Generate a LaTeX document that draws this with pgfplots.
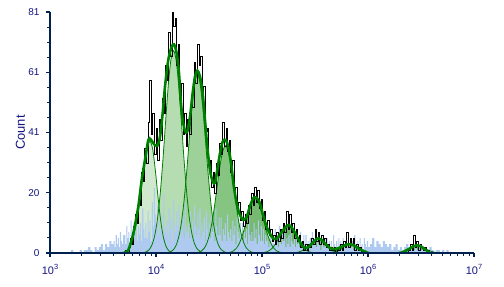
\documentclass[border=0pt]{standalone}
\usepackage{pgfplots}
\pgfplotsset{compat=1.18}
\usepackage{pgfplotstable}
\usepackage{fontspec}
\setmainfont{Liberation Sans}
\definecolor{axiscol}{RGB}{0,32,80}
\definecolor{labelcol}{RGB}{20,20,130}
\definecolor{gline}{RGB}{0,128,0}
\definecolor{cfa}{RGB}{208,232,206}
\definecolor{cfb}{RGB}{182,220,178}
\definecolor{cfc}{RGB}{158,208,154}
\definecolor{cfd}{RGB}{134,196,130}
\definecolor{cfe}{RGB}{118,186,114}
\definecolor{cff}{RGB}{108,178,104}
\definecolor{cfg}{RGB}{100,172,96}
\definecolor{bluecol}{RGB}{174,202,240}

\pgfplotstableread{
x y
3.670 0.10
3.695 0.29
3.720 0.72
3.745 1.65
3.770 3.43
3.795 6.45
3.820 11.06
3.845 17.18
3.870 24.19
3.895 30.86
3.920 35.70
3.945 37.5
3.970 34.65
3.995 27.38
4.020 18.45
4.045 10.65
4.070 5.25
4.095 2.21
4.120 0.79
4.145 0.24
}\compA
\pgfplotstableread{
x y
3.890 0.18
3.915 0.52
3.940 1.31
3.965 2.99
3.990 6.22
4.015 11.70
4.040 20.06
4.065 31.14
4.090 43.86
4.115 55.96
4.140 64.74
4.165 68
4.190 64.74
4.215 55.96
4.240 43.86
4.265 31.14
4.290 20.06
4.315 11.70
4.340 6.22
4.365 2.99
4.390 1.31
4.415 0.52
4.440 0.18
}\compB
\pgfplotstableread{
x y
4.115 0.16
4.140 0.46
4.165 1.15
4.190 2.63
4.215 5.48
4.240 10.32
4.265 17.70
4.290 27.48
4.315 38.70
4.340 49.38
4.365 57.12
4.390 60
4.415 57.12
4.440 49.38
4.465 38.70
4.490 27.48
4.515 17.70
4.540 10.32
4.565 5.48
4.590 2.63
4.615 1.15
4.640 0.46
4.665 0.16
}\compC
\pgfplotstableread{
x y
4.380 0.10
4.405 0.27
4.430 0.69
4.455 1.58
4.480 3.29
4.505 6.19
4.530 10.62
4.555 16.49
4.580 23.22
4.605 29.63
4.630 34.27
4.655 36
4.680 34.27
4.705 29.63
4.730 23.22
4.755 16.49
4.780 10.62
4.805 6.19
4.830 3.29
4.855 1.58
4.880 0.69
4.905 0.27
4.930 0.10
}\compD
\pgfplotstableread{
x y
4.660 0.05
4.685 0.14
4.710 0.35
4.735 0.80
4.760 1.67
4.785 3.15
4.810 5.40
4.835 8.38
4.860 11.80
4.885 15.06
4.910 17.42
4.935 18.3
4.960 17.42
4.985 15.06
5.010 11.80
5.035 8.38
5.060 5.40
5.085 3.15
5.110 1.67
5.135 0.80
5.160 0.35
5.185 0.14
5.210 0.05
}\compE
\pgfplotstableread{
x y
4.970 0.02
4.995 0.07
5.020 0.17
5.045 0.40
5.070 0.82
5.095 1.55
5.120 2.66
5.145 4.12
5.170 5.81
5.195 7.41
5.220 8.57
5.245 9
5.270 8.57
5.295 7.41
5.320 5.81
5.345 4.12
5.370 2.66
5.395 1.55
5.420 0.82
5.445 0.40
5.470 0.17
5.495 0.07
5.520 0.02
}\compF
\pgfplotstableread{
x y
5.255 0.01
5.280 0.04
5.305 0.09
5.330 0.21
5.355 0.43
5.380 0.81
5.405 1.39
5.430 2.15
5.455 3.03
5.480 3.87
5.505 4.47
5.530 4.7
5.555 4.47
5.580 3.87
5.605 3.03
5.630 2.15
5.655 1.39
5.680 0.81
5.705 0.43
5.730 0.21
5.755 0.09
5.780 0.04
5.805 0.01
}\compG
\pgfplotstableread{
x y
5.560 0.01
5.585 0.02
5.610 0.06
5.635 0.13
5.660 0.27
5.685 0.50
5.710 0.86
5.735 1.33
5.760 1.87
5.785 2.39
5.810 2.76
5.835 2.9
5.860 2.76
5.885 2.39
5.910 1.87
5.935 1.33
5.960 0.86
5.985 0.50
6.010 0.27
6.035 0.13
6.060 0.06
6.085 0.02
6.110 0.01
}\compH
\pgfplotstableread{
x y
6.185 0.01
6.210 0.02
6.235 0.05
6.260 0.11
6.285 0.22
6.310 0.41
6.335 0.71
6.360 1.10
6.385 1.55
6.410 1.98
6.435 2.28
6.460 2.4
6.485 2.28
6.510 1.98
6.535 1.55
6.560 1.10
6.585 0.71
6.610 0.41
6.635 0.22
6.660 0.11
6.685 0.05
6.710 0.02
6.735 0.01
}\compI

\begin{document}
\begin{tikzpicture}
\path[use as bounding box] (-50bp,-34bp) rectangle (454bp,253bp);
\begin{axis}[
  at={(0,0)}, anchor=south west,
  scale only axis, width=424bp, height=241bp,
  xmin=3, xmax=7, ymin=0, ymax=81,
  enlargelimits=false,
  axis x line=bottom, axis y line=left,
  axis line style={draw=axiscol, line width=2bp, -},
  axis on top=true,
  xtick={3,4,5,6,7},
  xticklabels={
    10\raisebox{4.5bp}{\fontsize{7.5}{8}\selectfont 3},
    10\raisebox{4.5bp}{\fontsize{7.5}{8}\selectfont 4},
    10\raisebox{4.5bp}{\fontsize{7.5}{8}\selectfont 5},
    10\raisebox{4.5bp}{\fontsize{7.5}{8}\selectfont 6},
    10\raisebox{4.5bp}{\fontsize{7.5}{8}\selectfont 7}},
  minor xtick={3.301,3.477,3.602,3.699,3.778,3.845,3.903,3.954,
               4.301,4.477,4.602,4.699,4.778,4.845,4.903,4.954,
               5.301,5.477,5.602,5.699,5.778,5.845,5.903,5.954,
               6.301,6.477,6.602,6.699,6.778,6.845,6.903,6.954},
  ytick={0,20.25,40.5,60.75,81},
  yticklabels={0,20,41,61,81},
  minor ytick={5.0625,10.125,15.1875,25.3125,30.375,35.4375,45.5625,50.625,55.6875,65.8125,70.875,75.9375},
  tick align=outside,
  major tick length=4bp, minor tick length=2.5bp,
  every tick/.style={draw=axiscol, line width=1.1bp},
  xticklabel style={font=\fontsize{11}{12}\selectfont, text=labelcol, anchor=north, yshift=-4bp},
  yticklabel style={font=\fontsize{10}{12}\selectfont, text=labelcol, anchor=east, xshift=-3bp},
  ylabel={Count},
  ylabel style={font=\fontsize{13}{14}\selectfont, text=labelcol, at={(axis description cs:-0.0696,0.5)}, anchor=center},
]
% component fills
\addplot[draw=none, fill=cfa, smooth] table {\compA} \closedcycle;
\addplot[draw=none, fill=cfb, smooth] table {\compB} \closedcycle;
\addplot[draw=none, fill=cfc, smooth] table {\compC} \closedcycle;
\addplot[draw=none, fill=cfd, smooth] table {\compD} \closedcycle;
\addplot[draw=none, fill=cfe, smooth] table {\compE} \closedcycle;
\addplot[draw=none, fill=cff, smooth] table {\compF} \closedcycle;
\addplot[draw=none, fill=cfg, smooth] table {\compG} \closedcycle;
\addplot[draw=none, fill=cfg, smooth] table {\compH} \closedcycle;
\addplot[draw=none, fill=cfg, smooth] table {\compI} \closedcycle;
% blue histogram
\addplot[const plot, draw=none, fill=bluecol] coordinates {
(3.20,1)(3.22,0)(3.24,0)(3.26,0)(3.28,1)(3.30,0)(3.32,1)(3.34,1)(3.36,2)(3.38,1)
(3.40,0)(3.42,2)(3.44,1)(3.46,2)(3.48,3)(3.50,1)(3.52,3)(3.54,2)(3.56,4)(3.58,3)
(3.60,4)(3.61,2)(3.62,6)(3.63,3)(3.64,5)(3.65,2)(3.66,7)(3.67,4)(3.68,3)(3.69,6)
(3.70,6)(3.71,3)(3.72,9)(3.73,5)(3.74,7)(3.75,3)(3.76,11)(3.77,6)(3.78,4)(3.79,10)
(3.80,7)(3.81,12)(3.82,4)(3.83,9)(3.84,6)(3.85,10)(3.86,4)(3.87,15)(3.88,8)(3.89,5)
(3.90,10)(3.91,5)(3.92,14)(3.93,7)(3.94,11)(3.95,4)(3.96,17)(3.97,9)(3.98,22)(3.99,13)
(4.00,8)(4.01,16)(4.02,6)(4.03,11)(4.04,8)(4.05,13)(4.06,5)(4.07,20)(4.08,9)(4.09,7)
(4.10,11)(4.11,6)(4.12,15)(4.13,8)(4.14,12)(4.15,4)(4.16,18)(4.17,10)(4.18,7)(4.19,14)
(4.20,9)(4.21,16)(4.22,6)(4.23,11)(4.24,8)(4.25,13)(4.26,5)(4.27,17)(4.28,9)(4.29,7)
(4.30,10)(4.31,5)(4.32,14)(4.33,7)(4.34,11)(4.35,4)(4.36,16)(4.37,9)(4.38,6)(4.39,13)
(4.40,8)(4.41,15)(4.42,5)(4.43,10)(4.44,7)(4.45,12)(4.46,4)(4.47,14)(4.48,8)(4.49,6)
(4.50,10)(4.51,5)(4.52,13)(4.53,7)(4.54,11)(4.55,4)(4.56,15)(4.57,9)(4.58,6)(4.59,12)
(4.60,6)(4.61,12)(4.62,4)(4.63,8)(4.64,6)(4.65,10)(4.66,4)(4.67,13)(4.68,7)(4.69,5)
(4.70,8)(4.71,4)(4.72,11)(4.73,6)(4.74,9)(4.75,3)(4.76,12)(4.77,7)(4.78,5)(4.79,10)
(4.80,6)(4.81,10)(4.82,4)(4.83,7)(4.84,5)(4.85,8)(4.86,3)(4.87,12)(4.88,6)(4.89,4)
(4.90,7)(4.91,4)(4.92,10)(4.93,5)(4.94,8)(4.95,3)(4.96,11)(4.97,6)(4.98,4)(4.99,9)
(5.00,4)(5.01,8)(5.02,3)(5.03,6)(5.04,4)(5.05,7)(5.06,2)(5.07,9)(5.08,5)(5.09,3)
(5.10,5)(5.11,3)(5.12,8)(5.13,4)(5.14,6)(5.15,2)(5.16,9)(5.17,5)(5.18,3)(5.19,7)
(5.20,4)(5.21,7)(5.22,2)(5.23,5)(5.24,3)(5.25,6)(5.26,2)(5.27,8)(5.28,4)(5.29,3)
(5.30,5)(5.31,2)(5.32,6)(5.33,3)(5.34,5)(5.35,2)(5.36,7)(5.37,4)(5.38,3)(5.39,6)
(5.40,3)(5.41,6)(5.42,2)(5.43,4)(5.44,3)(5.45,5)(5.46,2)(5.47,7)(5.48,4)(5.49,3)
(5.50,4)(5.51,2)(5.52,5)(5.53,3)(5.54,4)(5.55,1)(5.56,6)(5.57,3)(5.58,2)(5.59,5)
(5.60,3)(5.61,5)(5.62,2)(5.63,4)(5.64,2)(5.65,4)(5.66,1)(5.67,6)(5.68,3)(5.69,2)
(5.70,4)(5.71,2)(5.72,5)(5.73,3)(5.74,4)(5.75,1)(5.76,5)(5.77,3)(5.78,2)(5.79,4)
(5.80,3)(5.81,5)(5.82,2)(5.83,3)(5.84,2)(5.85,4)(5.86,1)(5.87,6)(5.88,3)(5.89,2)
(5.90,4)(5.91,2)(5.92,5)(5.93,2)(5.94,3)(5.95,1)(5.96,5)(5.97,3)(5.98,2)(5.99,4)
(6.00,2)(6.02,3)(6.04,5)(6.06,2)(6.08,4)(6.10,3)(6.12,2)(6.14,4)(6.16,3)(6.18,2)
(6.20,3)(6.22,1)(6.24,2)(6.26,3)(6.28,1)(6.30,2)(6.32,1)(6.34,2)(6.36,3)(6.38,1)
(6.40,2)(6.42,1)(6.44,2)(6.46,1)(6.48,2)(6.50,1)(6.52,2)(6.54,1)(6.56,1)(6.58,2)
(6.60,1)(6.62,0)(6.64,1)(6.66,1)(6.68,0)(6.70,1)(6.72,0)(6.74,1)(6.76,0)(6.78,0)
} \closedcycle;
% component outlines
\addplot[draw=gline, line width=0.8bp, smooth] table {\compA};
\addplot[draw=gline, line width=0.8bp, smooth] table {\compB};
\addplot[draw=gline, line width=0.8bp, smooth] table {\compC};
\addplot[draw=gline, line width=0.8bp, smooth] table {\compD};
\addplot[draw=gline, line width=0.8bp, smooth] table {\compE};
\addplot[draw=gline, line width=0.8bp, smooth] table {\compF};
\addplot[draw=gline, line width=0.8bp, smooth] table {\compG};
\addplot[draw=gline, line width=0.8bp, smooth] table {\compH};
\addplot[draw=gline, line width=0.8bp, smooth] table {\compI};
% black data histogram
\addplot[const plot, draw=black, line width=0.75bp] coordinates {
(3.700,0)(3.715,1)(3.730,0)(3.745,2)(3.760,5)(3.775,3)(3.790,9)(3.805,13)(3.820,10)(3.835,18)
(3.850,16)(3.865,27)(3.880,24)(3.895,35)(3.910,30)(3.925,44)(3.940,58)(3.955,40)(3.970,47)(3.985,33)
(4.000,42)(4.015,31)(4.030,45)(4.045,38)(4.060,52)(4.075,47)(4.090,63)(4.105,58)(4.120,74)(4.135,66)
(4.150,81)(4.165,76)(4.180,79)(4.195,63)(4.210,70)(4.225,52)(4.240,57)(4.255,40)(4.270,47)(4.285,36)
(4.300,45)(4.315,40)(4.330,52)(4.345,49)(4.360,64)(4.375,57)(4.390,70)(4.405,63)(4.420,66)(4.435,52)
(4.450,56)(4.465,41)(4.480,42)(4.495,29)(4.510,31)(4.525,22)(4.540,27)(4.555,20)(4.570,30)(4.585,26)
(4.600,37)(4.615,33)(4.630,44)(4.645,36)(4.660,42)(4.675,34)(4.690,38)(4.705,27)(4.720,31)(4.735,19)
(4.750,22)(4.765,14)(4.780,17)(4.795,11)(4.810,14)(4.825,9)(4.840,13)(4.855,10)(4.870,16)(4.885,13)
(4.900,20)(4.915,16)(4.930,22)(4.945,17)(4.960,21)(4.975,15)(4.990,18)(5.005,11)(5.020,14)(5.035,8)
(5.050,11)(5.065,6)(5.080,8)(5.095,4)(5.110,6)(5.125,3)(5.140,7)(5.155,4)(5.170,8)(5.185,5)
(5.200,10)(5.215,7)(5.230,14)(5.245,8)(5.260,13)(5.275,7)(5.290,10)(5.305,5)(5.320,8)(5.335,4)
(5.350,6)(5.365,2)(5.380,4)(5.395,1)(5.410,3)(5.425,1)(5.440,3)(5.455,2)(5.470,5)(5.485,3)
(5.500,8)(5.515,4)(5.530,7)(5.545,3)(5.560,6)(5.575,3)(5.590,5)(5.605,2)(5.620,3)(5.635,1)
(5.650,2)(5.665,1)(5.680,2)(5.695,0)(5.710,2)(5.725,1)(5.740,3)(5.755,1)(5.770,4)(5.785,2)
(5.800,7)(5.815,2)(5.830,5)(5.845,3)(5.860,5)(5.875,1)(5.890,3)(5.905,1)(5.920,2)(5.935,0)
(5.950,1)(5.965,0)(5.980,0)
};
\addplot[const plot, draw=black, line width=0.75bp] coordinates {
(6.370,0)(6.385,1)(6.400,3)(6.415,1)(6.430,6)(6.445,2)(6.460,4)(6.475,1)(6.490,3)(6.505,2)
(6.520,1)(6.535,2)(6.550,0)(6.565,1)(6.580,0)
};
% total model curve
\addplot[draw=gline, line width=2.6bp, smooth] coordinates {
(3.700,0)(3.739,1)(3.786,6.6)(3.833,15.6)(3.865,24.5)(3.896,31.3)(3.928,38)(3.95,38.2)(3.981,36.6)(4.012,36)
(4.038,39.1)(4.063,47)(4.085,55.9)(4.116,64.9)(4.148,69.3)(4.17,70.1)(4.195,67.1)(4.217,60.4)(4.233,51.4)(4.252,44.7)
(4.274,41.1)(4.295,40.8)(4.321,45.8)(4.346,53.7)(4.368,59.3)(4.39,61.3)(4.415,59.3)(4.44,53.7)(4.462,44.7)(4.484,35.7)
(4.509,27.9)(4.535,24)(4.557,23.6)(4.578,27.9)(4.604,33.5)(4.629,37.4)(4.657,38)(4.682,35.7)(4.708,30.2)(4.729,23.8)
(4.755,17.8)(4.786,13.3)(4.824,11.1)(4.856,12.2)(4.887,15.8)(4.918,18.4)(4.943,18.7)(4.975,17.2)(5.006,13.3)(5.044,8.8)
(5.091,5.5)(5.12,4.7)(5.15,5.2)(5.19,7.2)(5.22,8.6)(5.248,9.4)(5.28,8.6)(5.32,6.2)(5.36,3.5)(5.40,1.8)
(5.44,2.0)(5.48,3.5)(5.51,4.6)(5.531,4.9)(5.56,4.5)(5.60,3.0)(5.64,1.7)(5.68,1.3)(5.72,1.6)(5.77,2.4)
(5.80,2.9)(5.83,3.0)(5.86,2.7)(5.90,1.7)(5.95,0.8)(5.99,0.2)
};
\addplot[draw=gline, line width=2.6bp, smooth] coordinates {
(6.33,0.2)(6.38,1.2)(6.42,2.1)(6.46,2.6)(6.50,2.2)(6.54,1.2)(6.58,0.3)
};
\end{axis}
\end{tikzpicture}
\end{document}
